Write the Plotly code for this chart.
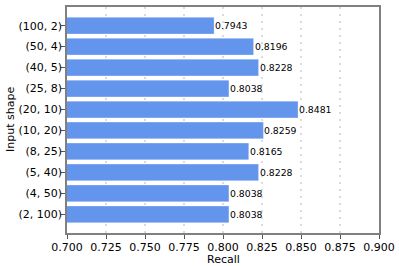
import plotly.graph_objects as go

shapes = ["(2, 100)", "(4, 50)", "(5, 40)", "(8, 25)", "(10, 20)",
          "(20, 10)", "(25, 8)", "(40, 5)", "(50, 4)", "(100, 2)"]
recall = [0.8038, 0.8038, 0.8228, 0.8165, 0.8259,
          0.8481, 0.8038, 0.8228, 0.8196, 0.7943]
xticks = [0.700, 0.725, 0.750, 0.775, 0.800, 0.825, 0.850, 0.875, 0.900]
xticklabels = ["0.700", "0.725", "0.750", "0.775", "0.800", "0.825", "0.850", "0.875", "0.900"]

ypos = list(range(len(shapes)))

W, H = 399, 266
L, R, T, B = 67, 20, 7, 33

fig = go.Figure()
fig.add_trace(go.Bar(
    x=recall, y=ypos, orientation="h", width=0.8,
    marker=dict(color="#6495ED", line=dict(color="rgba(255,255,255,0.5)", width=0.6)),
    hoverinfo="skip",
))

for yv, v in zip(ypos, recall):
    fig.add_annotation(x=v, y=yv, text=f"{v:.4f}", xanchor="left", yanchor="middle",
                       xshift=-1, showarrow=False,
                       font=dict(family="DejaVu Sans", size=9.3, color="black"))

# axis titles
fig.add_annotation(xref="paper", yref="paper", x=0.5, y=-(259 - (H - B)) / (H - T - B),
                   text="Recall", showarrow=False, xanchor="center", yanchor="middle",
                   font=dict(family="DejaVu Sans", size=11, color="black"))
fig.add_annotation(xref="paper", yref="paper", x=-(L - 10) / (W - L - R), y=0.5,
                   text="Input shape", textangle=-90, showarrow=False,
                   xanchor="center", yanchor="middle",
                   font=dict(family="DejaVu Sans", size=11, color="black"))

fig.update_layout(
    width=W, height=H,
    margin=dict(l=L, r=R, t=T, b=B, autoexpand=False),
    plot_bgcolor="white", paper_bgcolor="white",
    showlegend=False,
    font=dict(family="DejaVu Sans", size=11, color="black"),
)
fig.update_xaxes(
    range=[0.7, 0.9], tickvals=xticks, ticktext=xticklabels,
    showgrid=True, gridcolor="rgba(210,210,210,0.8)", gridwidth=2, griddash="2px,5px",
    showline=True, linecolor="#808080", linewidth=1.5, mirror=True,
    ticks="outside", ticklen=4, tickcolor="#555555", tickwidth=1,
    zeroline=False, layer="above traces", automargin=False,
    tickfont=dict(size=11), ticklabelstandoff=-1,
)
fig.update_yaxes(
    range=[-0.89, 9.89], tickvals=ypos, ticktext=shapes,
    showgrid=False, zeroline=False, automargin=False,
    showline=True, linecolor="#808080", linewidth=1.5, mirror=True,
    ticks="outside", ticklen=4, tickcolor="#555555", tickwidth=1,
    tickfont=dict(size=11), ticklabelstandoff=-3,
)

fig.write_html("out.html", config={"displayModeBar": False},
               post_script="document.body.style.margin='0';")
